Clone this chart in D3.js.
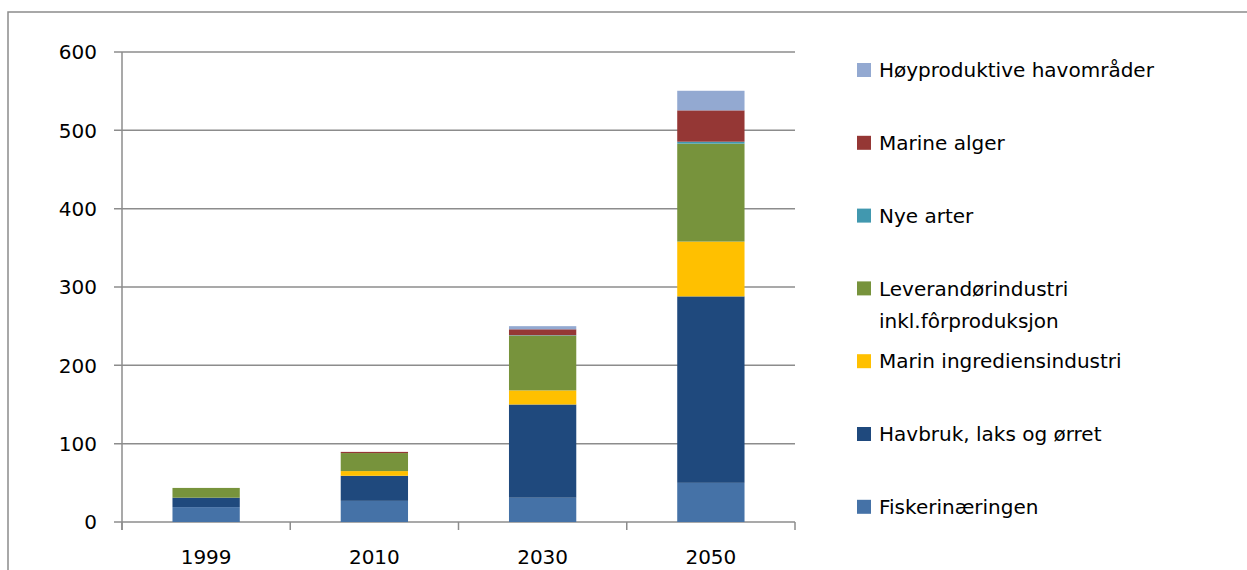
<!DOCTYPE html>
<html><head><meta charset="utf-8">
<script src="https://cdn.jsdelivr.net/npm/d3@7"></script>
<style>
html,body{margin:0;padding:0;background:#fff;}
svg{display:block;}
text{font-family:"DejaVu Sans",sans-serif;fill:#000;}
</style></head>
<body>
<svg id="c" width="1247" height="570"></svg>
<script>
const years = ["1999","2010","2030","2050"];
const seriesNames = ["Fiskerinæringen","Havbruk, laks og ørret","Marin ingrediensindustri","Leverandørindustri inkl.fôrproduksjon","Nye arter","Marine alger","Høyproduktive havområder"];
const fiskerinaeringen = [19, 27, 31, 50];
const havbruk = [12, 32, 119, 238];
const marinIngrediens = [0, 6, 18, 70];
const leverandor = [12.5, 23, 70, 125];
const nyeArter = [0, 0, 0.5, 2.5];
const marineAlger = [0, 1.5, 7.5, 40];
const hoyproduktive = [0, 0, 4, 25];
const yTicks = [0, 100, 200, 300, 400, 500, 600];
const colors = ["#4572A7","#1F497D","#FFC000","#77933C","#4198AF","#953735","#93A9D1"];

const seriesValues = [fiskerinaeringen, havbruk, marinIngrediens, leverandor, nyeArter, marineAlger, hoyproduktive];
const table = years.map((yr,i)=>{ const o={year:yr}; seriesNames.forEach((s,k)=>o[s]=seriesValues[k][i]); return o; });

const svg = d3.select("#c");
const pLeft = 122, pRight = 795, pTop = 52, pBottom = 522;
const x = d3.scaleBand().domain(years).range([pLeft, pRight]).paddingInner(0.6).paddingOuter(0.3);
const xb = d3.scaleBand().domain(years).range([pLeft, pRight]);
const y = d3.scaleLinear().domain([0, 600]).range([pBottom, pTop]);
const gridColor = "#8c8c8c";
const fs = "20px";

// outer border
svg.append("rect").attr("x",8).attr("y",12).attr("width",1300).attr("height",700)
  .attr("fill","none").attr("stroke",gridColor).attr("stroke-width",1.5);

// gridlines
svg.append("g").selectAll("line").data(yTicks).join("line")
  .attr("x1", pLeft-8).attr("x2", pRight).attr("y1", d=>y(d)).attr("y2", d=>y(d))
  .attr("stroke", gridColor).attr("stroke-width", 1.5);

// y axis line
svg.append("line").attr("x1",pLeft).attr("x2",pLeft).attr("y1",y(600)).attr("y2",pBottom+8)
  .attr("stroke",gridColor).attr("stroke-width",1.5);
// x category ticks
const bounds = years.map(d=>xb(d)).concat([pRight]);
svg.append("g").selectAll("line").data(bounds).join("line")
  .attr("x1",d=>d).attr("x2",d=>d).attr("y1",pBottom).attr("y2",pBottom+8)
  .attr("stroke",gridColor).attr("stroke-width",1.5);

// y labels
svg.append("g").selectAll("text").data(yTicks).join("text")
  .attr("x", 97).attr("y", d=>y(d)).attr("dy","0.36em").attr("text-anchor","end")
  .style("font-size",fs).text(d=>d);

// x labels
svg.append("g").selectAll("text").data(years).join("text")
  .attr("x", d=>xb(d)+xb.bandwidth()/2).attr("y", 564).attr("text-anchor","middle")
  .style("font-size",fs).text(d=>d);

// bars
const stack = d3.stack().keys(seriesNames)(table);
svg.append("g").selectAll("g").data(stack).join("g")
  .attr("fill",(d,i)=>colors[i])
  .selectAll("rect").data(d=>d).join("rect")
  .attr("x", d=>x(d.data.year)).attr("width", x.bandwidth())
  .attr("y", d=>y(d[1])).attr("height", d=>Math.max(0, y(d[0])-y(d[1])));

// legend (top to bottom = reverse series order)
const legendOrder = seriesNames.map((s,i)=>({name:s,color:colors[i]})).reverse();
const lg = svg.append("g");
legendOrder.forEach((d,i)=>{
  const cy = 70 + i*72.8;
  lg.append("rect").attr("x",857).attr("y",cy-7).attr("width",14).attr("height",14).attr("fill",d.color);
  const t = lg.append("text").attr("x",879).attr("y",cy).attr("dy","0.36em").style("font-size",fs);
  if (d.name.startsWith("Leverandør")) {
    t.append("tspan").attr("x",879).text("Leverandørindustri");
    t.append("tspan").attr("x",879).attr("dy","32px").text("inkl.fôrproduksjon");
  } else t.text(d.name);
});
</script>
</body></html>
